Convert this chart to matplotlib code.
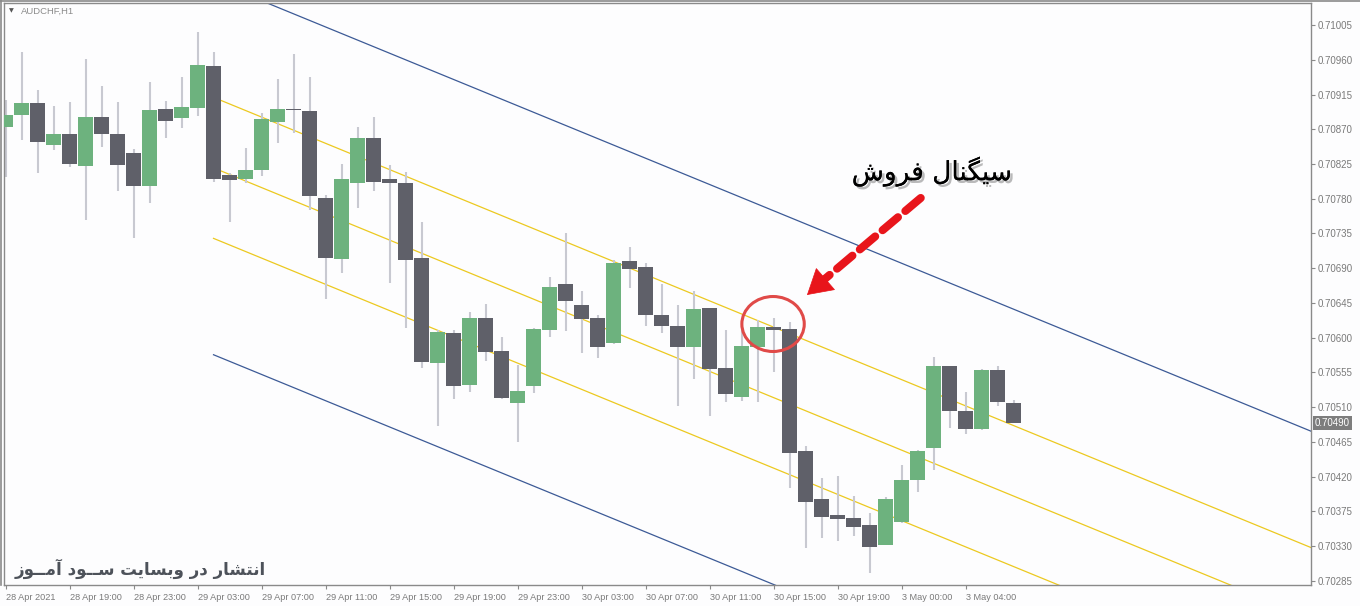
import numpy as np
import matplotlib
matplotlib.use("Agg")
import matplotlib.pyplot as plt
from matplotlib.patches import Ellipse
from matplotlib.lines import Line2D
import matplotlib.patheffects as pe
import matplotlib.transforms as mtransforms

# AUDCHF H1 candles
opens = [0.70873, 0.70889, 0.70904, 0.70850, 0.70864, 0.70822, 0.70886, 0.70864, 0.70839, 0.70797,
         0.70896, 0.70885, 0.70898, 0.70952, 0.70811, 0.70806, 0.70817, 0.70879, 0.70896, 0.70894,
         0.70781, 0.70702, 0.70800, 0.70859, 0.70806, 0.70800, 0.70703, 0.70567, 0.70606, 0.70539,
         0.70626, 0.70583, 0.70516, 0.70538, 0.70610, 0.70670, 0.70642, 0.70626, 0.70593, 0.70699,
         0.70692, 0.70630, 0.70615, 0.70588, 0.70639, 0.70561, 0.70523, 0.70588, 0.70614, 0.70611,
         0.70453, 0.70391, 0.70371, 0.70367, 0.70358, 0.70332, 0.70361, 0.70416, 0.70457, 0.70563,
         0.70505, 0.70482, 0.70558, 0.70516]
highs = [0.70908, 0.70970, 0.70921, 0.70900, 0.70905, 0.70961, 0.70926, 0.70905, 0.70844, 0.70931,
         0.70907, 0.70938, 0.70996, 0.70970, 0.70813, 0.70846, 0.70891, 0.70935, 0.70968, 0.70938,
         0.70785, 0.70825, 0.70873, 0.70886, 0.70824, 0.70815, 0.70750, 0.70610, 0.70610, 0.70633,
         0.70644, 0.70601, 0.70565, 0.70613, 0.70679, 0.70736, 0.70661, 0.70630, 0.70701, 0.70718,
         0.70697, 0.70670, 0.70642, 0.70661, 0.70639, 0.70610, 0.70626, 0.70623, 0.70626, 0.70620,
         0.70460, 0.70418, 0.70421, 0.70395, 0.70373, 0.70394, 0.70435, 0.70455, 0.70575, 0.70564,
         0.70530, 0.70560, 0.70563, 0.70519]
lows = [0.70808, 0.70856, 0.70813, 0.70843, 0.70821, 0.70753, 0.70847, 0.70790, 0.70729, 0.70775,
        0.70859, 0.70872, 0.70887, 0.70802, 0.70750, 0.70800, 0.70810, 0.70852, 0.70865, 0.70766,
        0.70650, 0.70684, 0.70768, 0.70790, 0.70671, 0.70613, 0.70561, 0.70486, 0.70521, 0.70530,
        0.70570, 0.70521, 0.70465, 0.70529, 0.70601, 0.70609, 0.70580, 0.70574, 0.70592, 0.70664,
        0.70615, 0.70606, 0.70512, 0.70547, 0.70499, 0.70517, 0.70518, 0.70517, 0.70556, 0.70405,
        0.70328, 0.70341, 0.70337, 0.70343, 0.70295, 0.70331, 0.70360, 0.70400, 0.70429, 0.70483,
        0.70475, 0.70481, 0.70512, 0.70490]
closes = [0.70889, 0.70904, 0.70854, 0.70864, 0.70825, 0.70886, 0.70864, 0.70824, 0.70797, 0.70895,
          0.70881, 0.70899, 0.70953, 0.70806, 0.70804, 0.70817, 0.70883, 0.70896, 0.70895, 0.70784,
          0.70703, 0.70806, 0.70859, 0.70802, 0.70800, 0.70701, 0.70569, 0.70608, 0.70538, 0.70626,
          0.70582, 0.70522, 0.70531, 0.70611, 0.70666, 0.70648, 0.70624, 0.70588, 0.70697, 0.70689,
          0.70630, 0.70615, 0.70588, 0.70637, 0.70560, 0.70527, 0.70589, 0.70614, 0.70610, 0.70451,
          0.70387, 0.70368, 0.70365, 0.70355, 0.70329, 0.70391, 0.70416, 0.70453, 0.70563, 0.70505,
          0.70482, 0.70558, 0.70517, 0.70490]

time_labels = ["28 Apr 2021", "28 Apr 19:00", "28 Apr 23:00", "29 Apr 03:00", "29 Apr 07:00",
               "29 Apr 11:00", "29 Apr 15:00", "29 Apr 19:00", "29 Apr 23:00", "30 Apr 03:00",
               "30 Apr 07:00", "30 Apr 11:00", "30 Apr 15:00", "30 Apr 19:00", "3 May 00:00",
               "3 May 04:00"]
price_ticks = [0.71005, 0.70960, 0.70915, 0.70870, 0.70825, 0.70780, 0.70735, 0.70690, 0.70645,
               0.70600, 0.70555, 0.70510, 0.70465, 0.70420, 0.70375, 0.70330, 0.70285]
last_price = 0.70490

# regression channel: start candle, middle value at start, slope per bar, band offsets
chan_start = 13
chan_mid = 0.70820
chan_slope = -0.000085
chan_inner = 0.000913
chan_outer = 0.00242

# persian text shaping (matplotlib has no arabic shaping)
FORMS = {
    'ا': ('\uFE8D', '\uFE8E'), 'آ': ('\uFE81', '\uFE82'), 'د': ('\uFEA9', '\uFEAA'),
    'ر': ('\uFEAD', '\uFEAE'), 'ز': ('\uFEAF', '\uFEB0'), 'و': ('\uFEED', '\uFEEE'),
    'ب': ('\uFE8F', '\uFE90', '\uFE91', '\uFE92'), 'ت': ('\uFE95', '\uFE96', '\uFE97', '\uFE98'),
    'س': ('\uFEB1', '\uFEB2', '\uFEB3', '\uFEB4'), 'ش': ('\uFEB5', '\uFEB6', '\uFEB7', '\uFEB8'),
    'ف': ('\uFED1', '\uFED2', '\uFED3', '\uFED4'), 'ل': ('\uFEDD', '\uFEDE', '\uFEDF', '\uFEE0'),
    'م': ('\uFEE1', '\uFEE2', '\uFEE3', '\uFEE4'), 'ن': ('\uFEE5', '\uFEE6', '\uFEE7', '\uFEE8'),
    'ی': ('\uFBFC', '\uFBFD', '\uFBFE', '\uFBFF'), 'گ': ('\uFB92', '\uFB93', '\uFB94', '\uFB95'),
    'ـ': ('ـ', 'ـ', 'ـ', 'ـ'),
}


def shape(s):
    out = []
    for i, ch in enumerate(s):
        if ch not in FORMS:
            out.append(ch)
            continue
        prev = s[i - 1] if i > 0 else ''
        nxt = s[i + 1] if i + 1 < len(s) else ''
        jp = prev in FORMS and len(FORMS[prev]) == 4
        jn = len(FORMS[ch]) == 4 and nxt in FORMS
        f = FORMS[ch]
        if len(f) == 2:
            out.append(f[1] if jp else f[0])
        else:
            out.append(f[3] if (jp and jn) else f[1] if jp else f[2] if jn else f[0])
    return ''.join(reversed(out))


W, H = 1360, 606
bg = '#fdfdfe'
fig = plt.figure(figsize=(W / 100, H / 100), dpi=100, facecolor=bg)
ax = fig.add_axes([4 / W, 21 / H, 1307 / W, 582 / H])
ax.set_facecolor(bg)

o = np.array(opens)
c = np.array(closes)
x = np.arange(len(o))
up = c >= o
ax.vlines(x, lows, highs, color='#c8c9d1', lw=1.5, zorder=2)
body_h = np.maximum(np.abs(c - o), 1.4e-5)
ax.bar(x[up], body_h[up], bottom=np.minimum(o, c)[up], width=0.9, color='#6db27e', lw=0, zorder=3)
ax.bar(x[~up], body_h[~up], bottom=np.minimum(o, c)[~up], width=0.9, color='#5f6069', lw=0, zorder=3)

x0, x1 = -0.094, 81.59
cx = np.array([chan_start, x1 + 1])
mid = chan_mid + chan_slope * (cx - chan_start)
for off, col in [(chan_outer, '#3c5a96'), (chan_inner, '#ecc920'), (0, '#ecc920'),
                 (-chan_inner, '#ecc920'), (-chan_outer, '#3c5a96')]:
    ax.plot(cx, mid + off, color=col, lw=0.9, zorder=1)

ax.set_xlim(x0, x1)
ax.set_ylim(0.702798, 0.710335)

ax.yaxis.tick_right()
ax.set_yticks(price_ticks)
ax.set_yticklabels(['%.5f' % v for v in price_ticks], family='Liberation Sans', fontsize=7,
                   color='#7a7a7a')
ax.set_xticks(np.arange(len(time_labels)) * 4)
ax.set_xticklabels(time_labels, family='Liberation Sans', fontsize=6.6, color='#7a7a7a', ha='left')
ax.tick_params(axis='both', length=3, width=0.8, color='#8a8a8a', pad=2)
ax.tick_params(axis='x', pad=3)
for sp in ax.spines.values():
    sp.set_color('#8a8a8a')
    sp.set_linewidth(1)

# last price tag
tr = mtransforms.blended_transform_factory(ax.transAxes, ax.transData)
ax.text(1.003, last_price, '%.5f' % last_price, transform=tr, ha='left', va='center',
        family='Liberation Sans', fontsize=7, color='white',
        bbox=dict(boxstyle='square,pad=0.22', fc='#7d7d7d', ec='none'))

# symbol header
ax.text(0.0035, 0.986, '▼', transform=ax.transAxes, fontsize=4.5, color='#555555', va='center')
ax.text(0.013, 0.986, 'AUDCHF,H1', transform=ax.transAxes, family='Liberation Sans',
        fontsize=6.8, color='#8c8c8c', va='center')

# sell signal annotation
red = '#e8151b'
ax.add_patch(Ellipse((47.97, 0.706178), 3.9, 0.000712, fill=False, ec='#e04a48', lw=2.2, zorder=5))
ax.annotate('', xy=(51.2, 0.70676), xytext=(57.2, 0.70781),
            arrowprops=dict(arrowstyle='-', lw=5.8, ls=(0, (2.5, 1.2)), color=red,
                            shrinkA=0, shrinkB=0), zorder=6)
ax.annotate('', xy=(50.09, 0.706554), xytext=(51.3, 0.70677),
            arrowprops=dict(arrowstyle='-|>,head_length=1.7,head_width=1.0', lw=0.5, color=red,
                            shrinkA=0, shrinkB=0), zorder=6)
ax.text(57.9, 0.70815, shape('سیگنال فروش'), ha='center', va='center', fontsize=19,
        family='DejaVu Sans', color='black', zorder=6,
        path_effects=[pe.withSimplePatchShadow(offset=(2, -2), shadow_rgbFace='#777777', alpha=0.5),
                      pe.Normal()])

# watermark
ax.text(0.6, 0.70301, shape('انتشار در وبسایت ســود آمــوز'), ha='left', va='center', fontsize=12,
        family='DejaVu Sans', fontweight='bold', color='#4d525a', zorder=6)

# window border
fig.add_artist(Line2D([0, 1], [1 - 1 / H, 1 - 1 / H], color='#8a8a8a', lw=1.2))
fig.add_artist(Line2D([1 / W, 1 / W], [21 / H, 1], color='#8a8a8a', lw=1.2))

fig.savefig('out.png', dpi=100, facecolor=bg)
